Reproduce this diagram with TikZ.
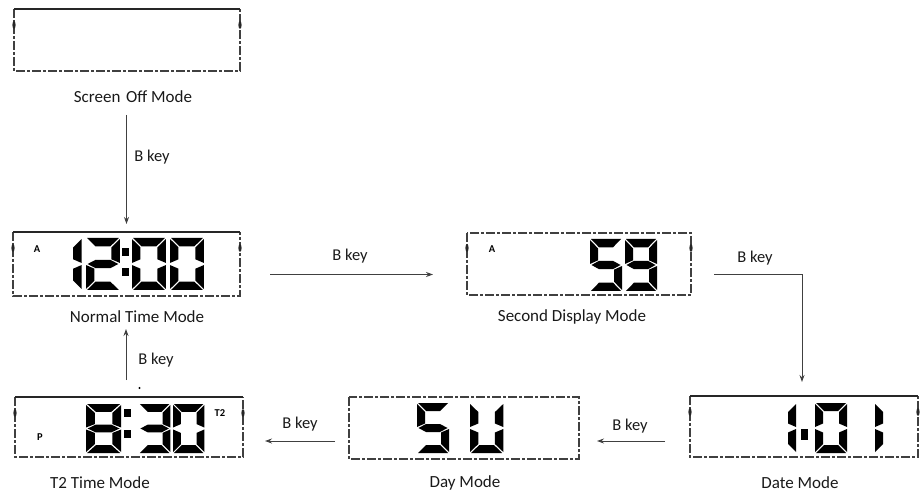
\documentclass[tikz,border=0pt]{standalone}
\usepackage{fontspec}
\setmainfont{Carlito}
\usetikzlibrary{arrows.meta}
% seven-segment pieces (cell 32 x 50, y downwards)
\def\sga{\fill[lcdfill] (1,0) -- (31,0) -- (23,8) -- (9,8) -- cycle;}
\def\sgd{\fill[lcdfill] (1,50) -- (31,50) -- (23,42) -- (9,42) -- cycle;}
\def\sgg{\fill[lcdfill] (1.5,25) -- (9,21) -- (23,21) -- (30.5,25) -- (23,29) -- (9,29) -- cycle;}
\def\sgf{\fill[lcdfill] (0,1) -- (8,9) -- (8,20.5) -- (0,24) -- cycle;}
\def\sge{\fill[lcdfill] (0,26) -- (8,29.5) -- (8,41) -- (0,49) -- cycle;}
\def\sgb{\fill[lcdfill] (32,1) -- (24,9) -- (24,20.5) -- (32,24) -- cycle;}
\def\sgc{\fill[lcdfill] (32,26) -- (24,29.5) -- (24,41) -- (32,49) -- cycle;}
\newcommand\sevseg[5]{%
  \begin{scope}[shift={(#1,#2)},xscale=#3,yscale=#4]
    \foreach \s in {#5}{\csname sg\s\endcsname}
  \end{scope}}
\tikzset{
  lcdfill/.style={fill=black},
  box/.style={draw=none,inner sep=0pt,outer sep=0pt},
  topline/.style={line width=2.2pt,black!85},
  sideline/.style={line width=1.1pt,black!75,dash pattern=on 9pt off 2pt on 3pt off 2pt},
  lbl/.style={font=\fontsize{17}{19}\selectfont,text=black!90,inner sep=1pt},
  keylbl/.style={font=\fontsize{16.5}{18}\selectfont,text=black!90,inner sep=1pt},
  arr/.style={line width=0.9pt,black!75,-{Stealth[length=7pt,width=5pt]}},
  tag/.style={font=\fontsize{10.5}{10}\selectfont\bfseries,inner sep=0pt},
  bump/.style={fill=black!85}
}
\begin{document}
\begin{tikzpicture}[x=1pt,y=-1pt]
\useasboundingbox (0,0) rectangle (924,497);

% ---------- display frames ----------
\node[box,minimum width=226pt,minimum height=62pt] (off) at (127,40) {};
\node[box,minimum width=227pt,minimum height=64pt] (norm) at (126.5,264) {};
\node[box,minimum width=224pt,minimum height=62pt] (sec) at (579,264) {};
\node[box,minimum width=228pt,minimum height=60pt] (t2) at (129,427) {};
\node[box,minimum width=230pt,minimum height=62pt] (day) at (464,428) {};
\node[box,minimum width=228pt,minimum height=61pt] (date) at (804,426.5) {};

\foreach \b in {off,norm,t2,date}{
  \draw[sideline] (\b.north west) -- (\b.south west) -- (\b.south east) -- (\b.north east);
  \draw[topline] (\b.north west) -- (\b.north east);
  \fill[bump] ([yshift=-16pt]\b.north west) ellipse (1.6pt and 4pt);
  \fill[bump] ([yshift=-16pt]\b.north east) ellipse (1.6pt and 4pt);
}
\draw[sideline] (sec.north west) rectangle (sec.south east);
\fill[bump] ([yshift=-15pt]sec.north west) ellipse (1.6pt and 4pt);
\fill[bump] ([yshift=-15pt]sec.north east) ellipse (1.6pt and 4pt);
\draw[sideline] (day.north west) rectangle (day.south east);

% ---------- digits ----------
% Normal time 12:00
\node[tag] (na) at (37,249) {A};
\sevseg{48}{238}{1.05}{1.04}{b,c}
\sevseg{86}{238}{1.06}{1.04}{a,b,g,e,d}
\fill[lcdfill] (122,248) rectangle (129,256);
\fill[lcdfill] (122,268) rectangle (129,276);
\sevseg{132}{238}{1.06}{1.04}{a,b,c,d,e,f}
\sevseg{170}{238}{1.06}{1.04}{a,b,c,d,e,f}
% Second 59
\node[tag] (sa) at (492,249) {A};
\sevseg{590}{239}{1.0}{1.04}{a,f,g,c,d}
\sevseg{625}{239}{1.0}{1.04}{a,b,c,d,f,g}
% T2 8:30
\node[tag] (tp) at (40,437) {P};
\node[tag] (tt) at (220,413) {T2};
\sevseg{86}{404}{1.1}{0.98}{a,b,c,d,e,f,g}
\fill[lcdfill] (124,409) rectangle (131,417);
\fill[lcdfill] (124,430) rectangle (131,438);
\sevseg{139}{404}{0.98}{0.98}{a,b,g,c,d}
\sevseg{173}{404}{0.98}{0.98}{a,b,c,d,e,f}
% Day SU
\sevseg{417}{403}{1.0}{1.0}{a,f,g,c,d}
\sevseg{470}{403}{1.04}{1.0}{b,c,d,e,f}
% Date 1-01
\sevseg{764}{403}{1.0}{1.0}{b,c}
\fill[lcdfill] (801,429) rectangle (808,440);
\sevseg{815}{403}{1.0}{1.0}{a,b,c,d,e,f}
\sevseg{875}{403}{1.0}{1.0}{e,f}

% ---------- labels ----------
\node[lbl] (offl) at (133,97) {Screen\,\,Off Mode};
\node[lbl] (norml) at (137,317) {Normal Time Mode};
\node[lbl] (secl) at (572,317) {Second Display Mode};
\node[lbl] (t2l) at (100,483) {T2 Time Mode};
\node[lbl] (dayl) at (465,483) {Day Mode};
\node[lbl] (datel) at (800,483) {Date Mode};

% ---------- connectors ----------
\coordinate (k1a) at (126.5,115);
\coordinate (k1b) at (126.5,224);
\draw[arr] (k1a) -- (k1b);
\node[keylbl] (k1) at (152,157) {B key};

\coordinate (k2a) at (270,274.5);
\coordinate (k2b) at (433,274.5);
\draw[arr] (k2a) -- (k2b);
\node[keylbl] (k2) at (350,256) {B key};

\coordinate (k3a) at (714,274);
\coordinate (k3m) at (802,274);
\coordinate (k3b) at (802,382);
\draw[arr] (k3a) -- (k3m) -- (k3b);
\node[keylbl] (k3) at (755,258) {B key};

\coordinate (k4a) at (665,441);
\coordinate (k4b) at (597,441);
\draw[arr] (k4a) -- (k4b);
\node[keylbl] (k4) at (630,426) {B key};

\coordinate (k5a) at (335,441);
\coordinate (k5b) at (265,441);
\draw[arr] (k5a) -- (k5b);
\node[keylbl] (k5) at (300,424) {B key};

\coordinate (k6a) at (126,380);
\coordinate (k6b) at (126,329);
\draw[arr] (k6a) -- (k6b);
\node[keylbl] (k6) at (156,360) {B key};
\fill[black] (139.5,388) circle (1.2pt);

\end{tikzpicture}
\end{document}
